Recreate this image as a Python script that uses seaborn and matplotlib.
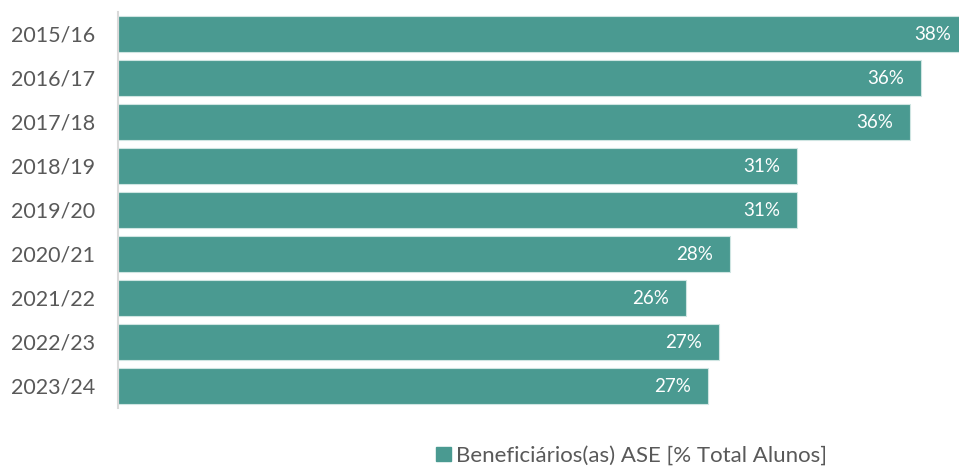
import matplotlib
matplotlib.use("Agg")
import matplotlib.pyplot as plt
from matplotlib.patches import Patch
import seaborn as sns
import pandas as pd

# ── Data ─────────────────────────────────────────────────────────────────────
SEASONS = ["2015/16", "2016/17", "2017/18", "2018/19", "2019/20",
           "2020/21", "2021/22", "2022/23", "2023/24"]
VALUES = [38.3, 36.2, 35.7, 30.6, 30.6, 27.6, 25.6, 27.1, 26.6]
LABELS = ["38%", "36%", "36%", "31%", "31%", "28%", "26%", "27%", "27%"]
SERIES = "Beneficiários(as) ASE [% Total Alunos]"

# ── Style ────────────────────────────────────────────────────────────────────
BAR_COLOR = "#4A9A91"
EDGE_COLOR = "#CFE5E2"
TEXT_COLOR = "#595959"
AXIS_COLOR = "#D9D9D9"

sns.set_style("white")
plt.rcParams["font.family"] = ["Lato", "DejaVu Sans"]

df = pd.DataFrame({"season": SEASONS, "value": VALUES})

fig = plt.figure(figsize=(9.59, 4.68), dpi=100)
ax = fig.add_axes([117.5 / 959, 60 / 468, 841.5 / 959, 396 / 468])

sns.barplot(data=df, x="value", y="season", orient="h", ax=ax,
            color=BAR_COLOR, saturation=1, width=0.8,
            edgecolor=EDGE_COLOR, linewidth=0.8)

ax.set_xlim(0, 37.9)
ax.set_ylim(len(SEASONS) - 0.5, -0.5)

for i, (v, lab) in enumerate(zip(VALUES, LABELS)):
    ax.annotate(lab, xy=(v, i), xytext=(-12.3, 0), textcoords="offset points",
                ha="right", va="center", color="white", fontsize=13.5,
                annotation_clip=False)

ax.set_xlabel("")
ax.set_ylabel("")
ax.set_xticks([])
ax.tick_params(axis="y", length=0, pad=16, labelsize=15.5, labelcolor=TEXT_COLOR)
for side in ["top", "right", "bottom"]:
    ax.spines[side].set_visible(False)
ax.spines["left"].set_color(AXIS_COLOR)
ax.spines["left"].set_linewidth(1.5)

handles = [Patch(facecolor=BAR_COLOR, edgecolor=BAR_COLOR, label=SERIES)]
fig.legend(handles=handles, loc="lower center", bbox_to_anchor=(0.659, -0.038),
           frameon=False, fontsize=16, handlelength=0.65, handleheight=0.65,
           handletextpad=0.25, labelcolor=TEXT_COLOR)

fig.savefig("out.png", dpi=100, facecolor="white")
plt.close(fig)
